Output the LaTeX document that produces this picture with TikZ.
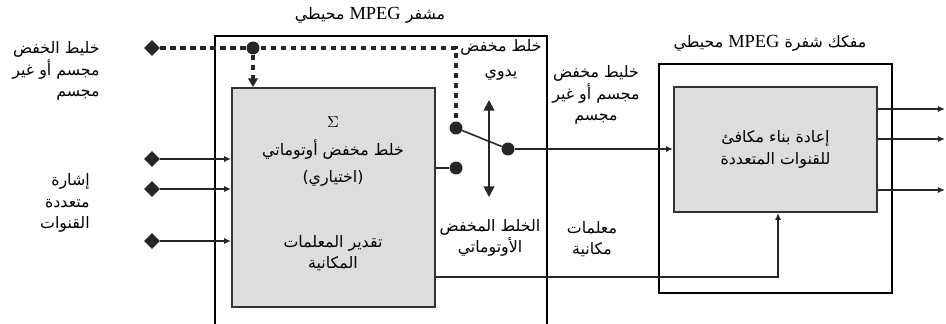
\documentclass[tikz,border=0pt]{standalone}
\usepackage{fontspec}
\setmainfont{Liberation Serif}
\newfontfamily\arabicfont[Script=Arabic]{DejaVu Sans}
\TeXXeTstate=1
\usetikzlibrary{shapes.geometric,arrows.meta}
\definecolor{boxgray}{RGB}{221,221,221}
\newcommand{\artxt}[1]{\beginR#1\endR}

\begin{document}
\begin{tikzpicture}[x=0.02cm,y=-0.02cm]
		\tikzstyle{outerbox}=[draw,line width=0.8pt,inner sep=0pt]
		\tikzstyle{graybox}=[draw=black!80,fill=boxgray,line width=1.1pt,inner sep=0pt]
		\tikzstyle{artext}=[font=\arabicfont\fontsize{9}{12.2}\selectfont,inner sep=0pt,align=center]
		\tikzstyle{port}=[fill=black!85,shape=diamond,minimum size=0.32cm,inner sep=0pt]
		\tikzstyle{joint}=[fill=black!85,shape=circle,minimum size=0.26cm,inner sep=0pt]
		\tikzstyle{myline}=[line width=1.1pt,black!85]
		\tikzstyle{myarrow}=[line width=1.1pt,black!85,-{Latex[length=4pt,width=3.5pt]}]
		\tikzstyle{mydash}=[line width=2.5pt,black!85,dash pattern=on 3pt off 2.7pt]

		\useasboundingbox[fill=white] (0,0) rectangle (946,324);

		% boxes
		\node[outerbox,minimum width=6.64cm,minimum height=6.08cm] (enc) at (381,188) {};
		\node[graybox,minimum width=4.06cm,minimum height=4.38cm] (encg) at (333.5,197.5) {};
		\node[outerbox,minimum width=4.66cm,minimum height=4.58cm] (dec) at (775.5,178.5) {};
		\node[graybox,minimum width=4.06cm,minimum height=2.5cm,artext] (decg) at (775.5,149.5) {\artxt{إعادة بناء مكافئ}\\\artxt{للقنوات المتعددة}};

		% ports and joints
		\foreach \x / \y / \z in {152/48/0,152/159/1,152/189/2,152/241/3} { \node[port] (d\z) at (\x,\y) {};}
		\node[joint] (j0) at (253,48) {};
		\node[joint] (s1) at (456,128) {};
		\node[joint] (s2) at (456,168) {};
		\node[joint] (p) at (508,149) {};
		\coordinate (u1) at (489,100);
		\coordinate (u2) at (489,197);
		\coordinate (sp) at (778,277);
		\foreach \y / \z in {109/1,139/2,190/3} { \coordinate (o\z) at (945,\y);}

		% connectors
		\draw[mydash] (d0) -| (s1);
		\draw[mydash,-{Triangle[length=5pt,width=5.5pt]}] (j0) -- (j0 |- encg.north);
		\foreach \z in {1,2,3} { \draw[myarrow] (d\z) -- (d\z -| encg.west);}
		\draw[myline] (encg.east |- s2) -- (s2);
		\draw[myline,line width=0.9pt] (s1) -- (p);
		\draw[myarrow] (p) -- (p -| decg.west);
		\draw[line width=1.1pt,black!85,{Triangle[length=6pt,width=6pt]}-{Triangle[length=6pt,width=6pt]}] (u1) -- (u2);
		\draw[myarrow] (encg.east |- sp) -- (sp) -- (sp |- decg.south);
		\foreach \z in {1,2,3} { \draw[myarrow] (decg.east |- o\z) -- (o\z);}

		% labels
		\node[artext] (tenc) at (370,15) {\artxt{مشفر \beginL{\rmfamily\fontsize{10.5}{12}\selectfont MPEG}\endL{} محيطي}};
		\node[artext] (tdec) at (770,43) {\artxt{مفكك شفرة \beginL{\rmfamily\fontsize{10.5}{12}\selectfont MPEG}\endL{} محيطي}};
		\node[artext,align=right,anchor=east] (tmix) at (100,71) {\artxt{خليط الخفض}\\\artxt{مجسم أو غير}\\\artxt{مجسم}};
		\node[artext,align=right,anchor=east] (tin) at (90,203) {\artxt{إشارة}\\\artxt{متعددة}\\\artxt{القنوات}};
		\node[artext] (tsum) at (333,122) {$\Sigma$};
		\node[artext] (tauto) at (333,163) {\artxt{خلط مخفض أوتوماتي}\\[3pt]\artxt{(اختياري)}};
		\node[artext] (test) at (333,253) {\artxt{تقدير المعلمات}\\\artxt{المكانية}};
		\node[artext] (tman) at (501,60) {\artxt{خلط مخفض}\\[2pt]\artxt{يدوي}};
		\node[artext] (tamix) at (490,238) {\artxt{الخلط المخفض}\\\artxt{الأوتوماتي}};
		\node[artext] (tout) at (596,95) {\artxt{خليط مخفض}\\\artxt{مجسم أو غير}\\\artxt{مجسم}};
		\node[artext] (tpar) at (592,239) {\artxt{معلمات}\\\artxt{مكانية}};

	\end{tikzpicture}
\end{document}
